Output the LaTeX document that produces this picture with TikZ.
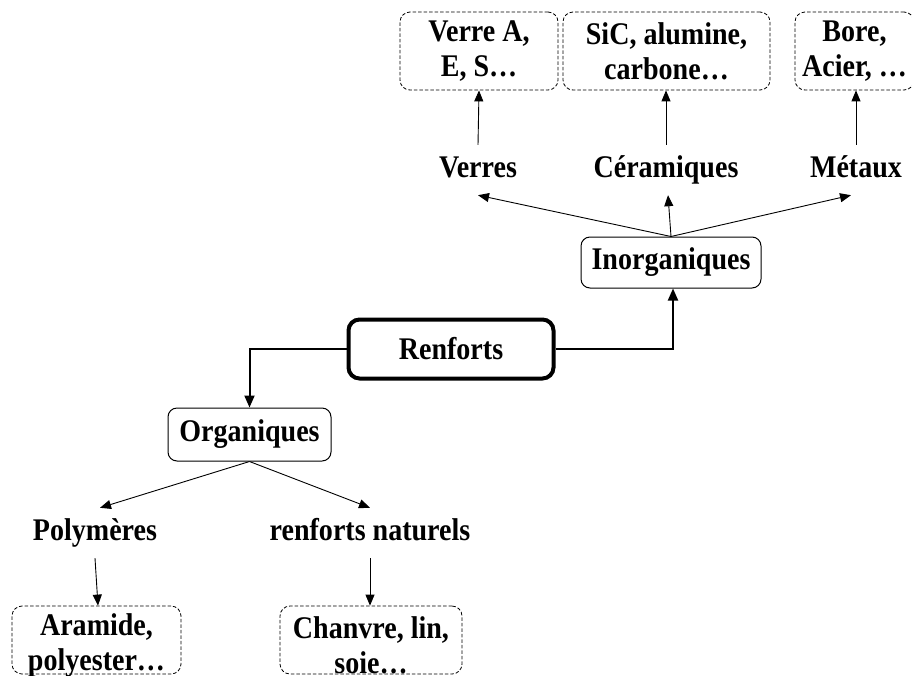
\documentclass[tikz,border=0pt]{standalone}
\usepackage{fontspec}
\setmainfont{Liberation Serif}[FakeStretch=0.89]
\usetikzlibrary{arrows.meta}
\begin{document}
\begin{tikzpicture}[x=1pt,y=-1pt,
  every node/.style={font=\fontsize{31.5}{35}\selectfont\bfseries, inner sep=0pt},
  dbox/.style={draw, dashed, rounded corners=10pt, align=center, line width=0.8pt, dash pattern=on 3.5pt off 2pt},
  sbox/.style={draw, rounded corners=9pt, line width=1pt},
  lbl/.style={minimum height=50pt, text height=21pt, text depth=7pt},
  arr/.style={-{Triangle[length=11pt,width=9pt]}, line width=0.9pt},
  barr/.style={-{Triangle[length=12pt,width=10pt]}, line width=2pt}
]
\useasboundingbox (0,0) rectangle (912,675);
% top boxes
\node[dbox, minimum width=158pt, minimum height=78pt] (v1) at (479,51) {Verre A,\\E, S…};
\node[dbox, minimum width=207pt, minimum height=78pt] (c1) at (666.5,51) {SiC, alumine,\\carbone…};
\node[dbox, minimum width=119pt, minimum height=78pt] (m1) at (854.5,51) {Bore,\\Acier, …};
% labels
\node[lbl] (verres) at (478,170) {Verres};
\node[lbl] (ceram) at (666,170) {Céramiques};
\node[lbl] (metaux) at (856,170) {Métaux};
% inorganiques
\node[sbox, minimum width=180pt, minimum height=51pt, text height=21pt, text depth=7pt] (inorg) at (671,262.5) {Inorganiques};
% renforts
\node[draw, rounded corners=11pt, line width=4pt, minimum width=205pt, minimum height=59pt] (renf) at (451,349) {Renforts};
% organiques
\node[sbox, minimum width=163pt, minimum height=53pt, text height=21pt, text depth=7pt] (org) at (249.5,434.5) {Organiques};
\node[lbl] (poly) at (95,533) {Polymères};
\node[lbl] (nat) at (370,533) {renforts naturels};
\node[dbox, minimum width=169pt, minimum height=68pt] (a1) at (96.5,640) {};
\node[align=center] (a1t) at (96.5,645) {Aramide,\\polyester…};
\node[dbox, minimum width=182pt, minimum height=68pt] (ch) at (371,640) {};
\node[align=center] (cht) at (371,645) {Chanvre, lin,\\soie…};
% connectors
\draw[arr] (verres.north) -- (v1.south);
\draw[arr] (ceram.north) -- (ceram.north |- c1.south);
\draw[arr] (metaux.north) -- (metaux.north |- m1.south);
\draw[arr] (inorg.north) -- (verres.south);
\draw[arr] (inorg.north) -- ([xshift=2pt]ceram.south);
\draw[arr] (inorg.north) -- ([xshift=-5pt]metaux.south);
\draw[barr] (renf.east) -| ([xshift=2pt]inorg.south);
\draw[barr] (renf.west) -| (org.north);
\draw[arr] (org.south) -- ([xshift=5pt]poly.north);
\draw[arr] (org.south) -- (nat.north);
\draw[arr] (poly.south) -- ([xshift=3pt]poly.south |- a1.north);
\draw[arr] (nat.south) -- (nat.south |- ch.north);
\end{tikzpicture}
\end{document}
